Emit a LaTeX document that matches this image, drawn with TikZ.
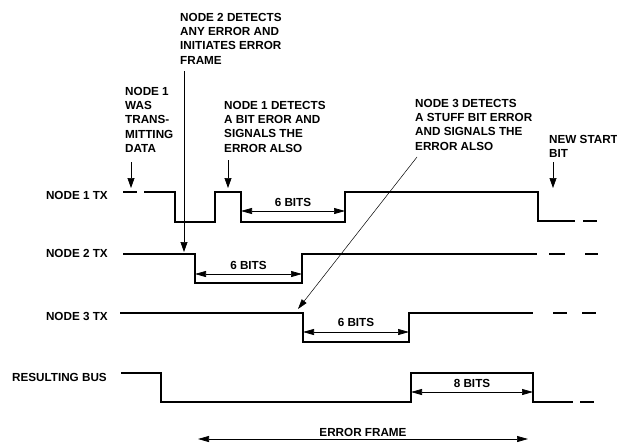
\documentclass[tikz,border=0pt]{standalone}
\usepackage{fontspec}
\setmainfont{Liberation Sans}
\usetikzlibrary{arrows.meta,positioning}
\tikzset{
  siglabel/.style={font=\bfseries\fontsize{11.7}{14.3}\selectfont,inner sep=0pt},
  notetext/.style={font=\bfseries\fontsize{11.7}{14.3}\selectfont,inner sep=0pt,align=left,anchor=north west},
  sigline/.style={line width=1.5pt,draw=black,line join=miter},
  bitarrow/.style={{Triangle[length=11pt,width=6pt]}-{Triangle[length=11pt,width=6pt]},line width=0.7pt},
  callout/.style={-{Triangle[length=10pt,width=7pt]},line width=0.7pt},
  slimcallout/.style={-{Triangle[length=10pt,width=6pt]},line width=0.5pt}
}

\begin{document}
\begin{tikzpicture}[x=1pt,y=-1pt]
\useasboundingbox (0,0) rectangle (617,442);

% signal names
\node[siglabel,anchor=east] (n1tx) at (108,195) {NODE 1 TX};
\node[siglabel,anchor=east] (n2tx) at (108,253) {NODE 2 TX};
\node[siglabel,anchor=east] (n3tx) at (108,316) {NODE 3 TX};
\node[siglabel,anchor=east] (bus) at (107,377) {RESULTING BUS};

% waveforms
\draw[sigline] (123,192) -- (137,192);
\draw[sigline] (144,192) -- (175,192) -- (175,222) -- (215,222) -- (215,192) -- (241,192) -- (241,222) -- (345,222) -- (345,192) -- (538,192) -- (538,221) -- (575,221);
\draw[sigline] (583,221) -- (597,221);

\draw[sigline] (123,254) -- (195,254) -- (195,283) -- (302,283) -- (302,254) -- (537,254);
\draw[sigline] (549,254) -- (565,254);
\draw[sigline] (585,254) -- (598,254);

\draw[sigline] (120,313) -- (303,313) -- (303,342) -- (409,342) -- (409,313) -- (533,313);
\draw[sigline] (553,313) -- (567,313);
\draw[sigline] (582,313) -- (596,313);

\draw[sigline] (121,373) -- (161,373) -- (161,402) -- (411,402) -- (411,373) -- (533,373) -- (533,402) -- (573,402);
\draw[sigline] (580,402) -- (594,402);

% bit counts
\coordinate (b1l) at (241,211);
\coordinate (b1r) at (345,211);
\draw[bitarrow] (b1l) -- node[siglabel,above=4pt] (bits1) {6 BITS} (b1r);
\coordinate (b2l) at (195,274);
\coordinate (b2r) at (302,274);
\draw[bitarrow] (b2l) -- node[siglabel,above=4pt] (bits2) {6 BITS} (b2r);
\coordinate (b3l) at (303,332);
\coordinate (b3r) at (409,332);
\draw[bitarrow] (b3l) -- node[siglabel,above=5pt] (bits3) {6 BITS} (b3r);
\coordinate (b4l) at (411,392);
\coordinate (b4r) at (533,392);
\draw[bitarrow] (b4l) -- node[siglabel,above=4pt] (bits4) {8 BITS} (b4r);
\coordinate (efl) at (198,439);
\coordinate (efr) at (528,439);
\draw[bitarrow] (efl) -- node[siglabel,above=2pt] (eframe) {ERROR FRAME} (efr);

% notes
\node[notetext] (wasdata) at (125,87) {NODE 1\\WAS\\TRANS-\\MITTING\\DATA};
\coordinate (wasfrom) at (131,162);
\coordinate (wasto) at (131,188);
\draw[callout] (wasfrom) -- (wasto);

\node[notetext] (n2note) at (180,13) {NODE 2 DETECTS\\ANY ERROR AND\\INITIATES ERROR\\FRAME};
\coordinate (n2from) at (184,71);
\coordinate (n2to) at (184,252);
\draw[callout] (n2from) -- (n2to);

\node[notetext] (n1note) at (224,101) {NODE 1 DETECTS\\A BIT EROR AND\\SIGNALS THE\\ERROR ALSO};
\coordinate (n1from) at (228,160);
\coordinate (n1to) at (228,188);
\draw[callout] (n1from) -- (n1to);

\node[notetext] (n3note) at (415,99) {NODE 3 DETECTS\\A STUFF BIT ERROR\\AND SIGNALS THE\\ERROR ALSO};
\coordinate (n3from) at (417,157);
\coordinate (n3to) at (298,309);
\draw[slimcallout] (n3from) -- (n3to);

\node[notetext] (startnote) at (549,135) {NEW START\\BIT};
\coordinate (stfrom) at (553,162);
\coordinate (stto) at (553,188);
\draw[callout] (stfrom) -- (stto);
\end{tikzpicture}
\end{document}
